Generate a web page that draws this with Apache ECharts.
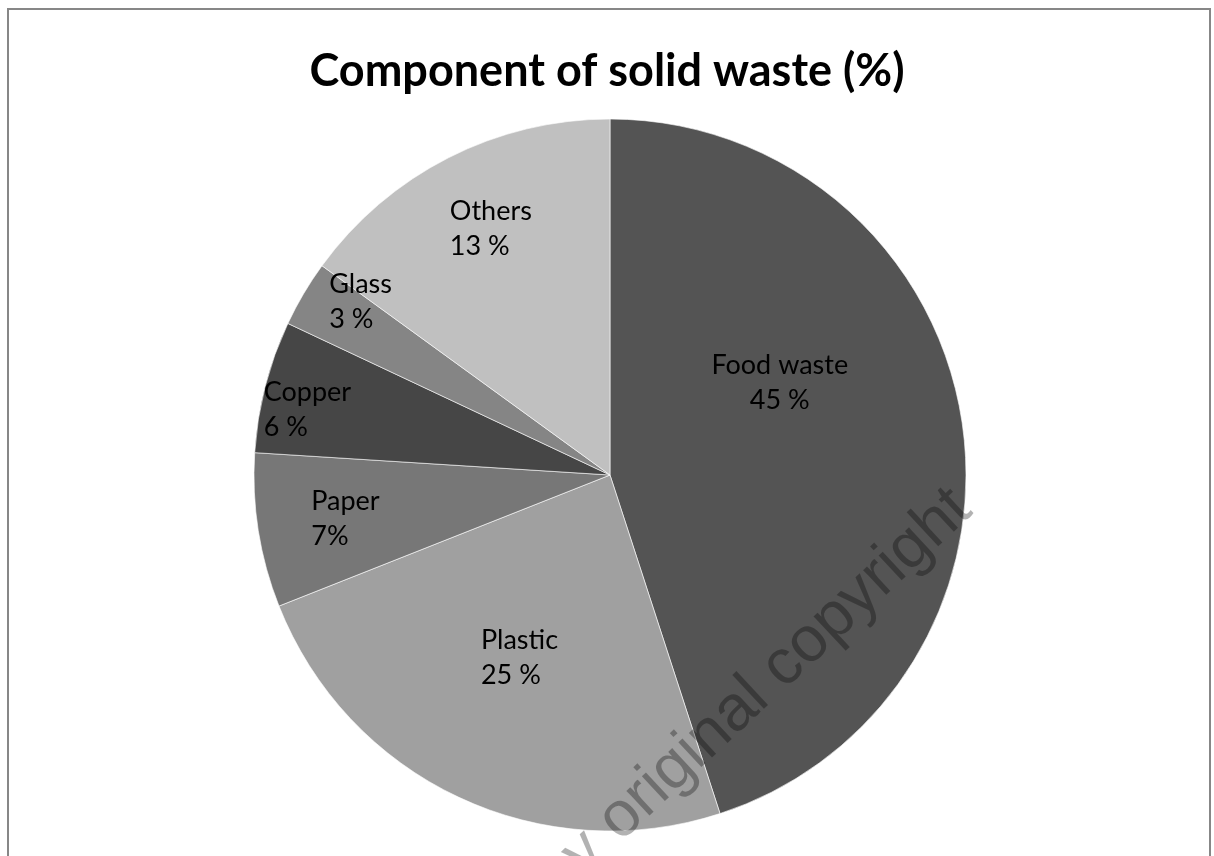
<!DOCTYPE html>
<html>
<head>
<meta charset="utf-8">
<script src="https://cdn.jsdelivr.net/npm/echarts@6/dist/echarts.min.js"></script>
<style>
html,body{margin:0;padding:0;background:#fff;}
#chart{width:1214px;height:856px;}
</style>
</head>
<body>
<div id="chart"></div>
<script>
// ---- data ----
const categories = ['Food waste', 'Plastic', 'Paper', 'Copper', 'Glass', 'Others'];
const values = [45, 24, 7, 6, 3, 15];           // slice sizes
const labelValues = ['45 %', '25 %', '7%', '6 %', '3 %', '13 %']; // label texts as printed
const titleText = 'Component of solid waste (%)';

// ---- styling (not data) ----
const colors = ['#545454', '#a0a0a0', '#777777', '#464646', '#858585', '#c0c0c0'];
const labelAlign = ['center', 'left', 'left', 'left', 'left', 'left'];
const labelNudge = [[-9, -64], [-52, 19], [-120, 15], [-171, -20], [-125, -81], [-78, -85]];

const chart = echarts.init(document.getElementById('chart'), null, {renderer: 'canvas'});
const FONT = 'Lato, "Open Sans", sans-serif';

chart.setOption({
  animation: false,
  backgroundColor: '#ffffff',
  title: {
    text: titleText,
    left: 'center',
    top: 44,
    textStyle: {fontFamily: FONT, fontWeight: 'bold', fontSize: 45, color: '#000'}
  },
  graphic: [
    {
      type: 'rect', z: 100, silent: true,
      shape: {x: 8, y: 9, width: 1202, height: 900},
      style: {fill: 'none', stroke: '#878787', lineWidth: 2}
    },
    {
      type: 'text', z: 100, silent: true,
      x: 962, y: 500, rotation: 43 * Math.PI / 180,
      style: {
        text: 'by original copyright',
        font: '64px "Liberation Sans", Arial, sans-serif',
        fill: 'rgba(0,0,0,0.3)',
        align: 'right', verticalAlign: 'middle'
      }
    }
  ],
  series: [{
    type: 'pie',
    center: [610, 475],
    radius: 356,
    startAngle: 90,
    clockwise: true,
    avoidLabelOverlap: false,
    itemStyle: {borderColor: '#ffffff', borderWidth: 0.6},
    label: {
      show: true,
      position: 'inside',
      fontFamily: FONT,
      fontSize: 27,
      lineHeight: 35,
      color: '#000',
      formatter: p => p.name + '\n' + labelValues[p.dataIndex]
    },
    labelLine: {show: false},
    labelLayout: function (params) {
      const i = params.dataIndex;
      return {dx: labelNudge[i][0], dy: labelNudge[i][1], align: labelAlign[i], verticalAlign: 'middle'};
    },
    data: categories.map((c, i) => ({name: c, value: values[i], itemStyle: {color: colors[i]}}))
  }]
});
</script>
</body>
</html>
